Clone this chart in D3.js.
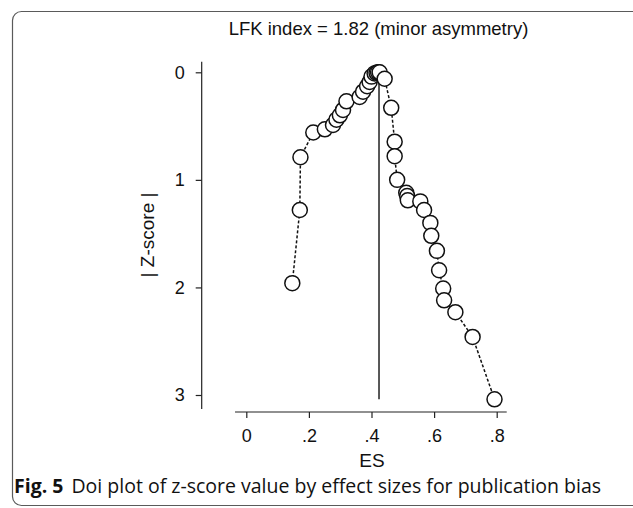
<!DOCTYPE html>
<html><head><meta charset="utf-8">
<script src="https://cdn.jsdelivr.net/npm/d3@7"></script>
<style>body{margin:0;background:#fff}svg{display:block}</style>
</head><body>
<svg id="c" width="633" height="508"></svg>
<script>
// ---- data ----
const esValues = [0.147,0.171,0.173,0.214,0.251,0.277,0.288,0.299,0.309,0.320,0.362,0.373,0.386,0.394,0.400,0.410,0.416,0.421,0.426,
  0.442,0.463,0.474,0.474,0.482,0.511,0.514,0.516,0.556,0.568,0.588,0.591,0.609,0.616,0.629,0.632,0.668,0.723,0.793];
const zValues  = [1.96,1.28,0.79,0.56,0.53,0.49,0.44,0.40,0.35,0.27,0.23,0.18,0.13,0.09,0.04,0.01,0.005,0.00,0.00,
  0.06,0.33,0.645,0.78,1.00,1.12,1.15,1.19,1.20,1.28,1.40,1.52,1.66,1.84,2.01,2.12,2.23,2.46,3.04];
const xTicks = [0,0.2,0.4,0.6,0.8];
const xTickLabels = ["0",".2",".4",".6",".8"];
const yTicks = [0,1,2,3];
const yTickLabels = ["0","1","2","3"];
const meanES = 0.424;
const xAxisExtent = [-0.036, 0.832];
const yAxisExtent = [-0.097, 3.13];
const titleText = "LFK index = 1.82 (minor asymmetry)";
const xLabel = "ES";
const yLabel = "| Z-score |";
const captionBold = "Fig. 5";
const captionText = "Doi plot of z-score value by effect sizes for publication bias";

// ---- drawing ----
const svg = d3.select("#c");
const FONT = "Liberation Sans, Arial, sans-serif";
const x = d3.scaleLinear().domain([0,0.8]).range([246.3,496.7]);
const y = d3.scaleLinear().domain([0,3]).range([72.3,395]);

svg.append("rect").attr("x",12.5).attr("y",11.5).attr("width",700).attr("height",494)
  .attr("rx",9).attr("fill","none").attr("stroke","#5a5a5a").attr("stroke-width",1.2);

svg.append("text").attr("x",378.5).attr("y",34.5).attr("text-anchor","middle")
  .attr("font-family",FONT).attr("font-size",18.5).attr("fill","#111").text(titleText);

// Y axis
const yAx = svg.append("g").attr("transform","translate(201.7,0)")
  .call(d3.axisLeft(y).tickValues(yTicks).tickFormat((d,i)=>yTickLabels[i]).tickSize(6).tickPadding(11).tickSizeOuter(0));
yAx.select(".domain").remove();
yAx.append("line").attr("x1",0).attr("x2",0).attr("y1",y(yAxisExtent[0])).attr("y2",y(yAxisExtent[1])).attr("stroke","#222").attr("stroke-width",1.2);
yAx.selectAll(".tick line").attr("stroke","#222").attr("stroke-width",1.2);
yAx.selectAll(".tick text").attr("font-family",FONT).attr("font-size",18).attr("fill","#111");

// X axis
const xAx = svg.append("g").attr("transform","translate(0,412)")
  .call(d3.axisBottom(x).tickValues(xTicks).tickFormat((d,i)=>xTickLabels[i]).tickSize(6).tickPadding(11).tickSizeOuter(0));
xAx.select(".domain").remove();
xAx.append("line").attr("y1",0).attr("y2",0).attr("x1",x(xAxisExtent[0])).attr("x2",x(xAxisExtent[1])).attr("stroke","#222").attr("stroke-width",1.2);
xAx.selectAll(".tick line").attr("stroke","#222").attr("stroke-width",1.2);
xAx.selectAll(".tick text").attr("font-family",FONT).attr("font-size",18).attr("fill","#111");

svg.append("text").attr("x",372).attr("y",467).attr("text-anchor","middle")
  .attr("font-family",FONT).attr("font-size",19).attr("fill","#111").text(xLabel);
svg.append("text").attr("transform","translate(154,235) rotate(-90)").attr("text-anchor","middle")
  .attr("font-family",FONT).attr("font-size",19).attr("fill","#111").text(yLabel);

// mean line
svg.append("line").attr("x1",x(meanES)).attr("x2",x(meanES)).attr("y1",y(0)).attr("y2",y(d3.max(zValues)))
  .attr("stroke","#111").attr("stroke-width",1.4);

const pts = esValues.map((e,i)=>({es:e,z:zValues[i]}));
svg.append("path").datum(pts)
  .attr("d",d3.line().x(d=>x(d.es)).y(d=>y(d.z)))
  .attr("fill","none").attr("stroke","#111").attr("stroke-width",1.5).attr("stroke-dasharray","3,2");

svg.append("g").selectAll("circle").data(pts).join("circle")
  .attr("cx",d=>x(d.es)).attr("cy",d=>y(d.z)).attr("r",7.5)
  .attr("fill","#fff").attr("stroke","#111").attr("stroke-width",1.5);

// caption
const cap = svg.append("text").attr("x",14).attr("y",493).attr("font-family","Open Sans, Noto Sans, sans-serif").attr("font-size",19.5).attr("fill","#111");
cap.append("tspan").attr("font-weight","bold").text(captionBold);
cap.append("tspan").attr("dx",8).text(captionText);
</script>
</body></html>
